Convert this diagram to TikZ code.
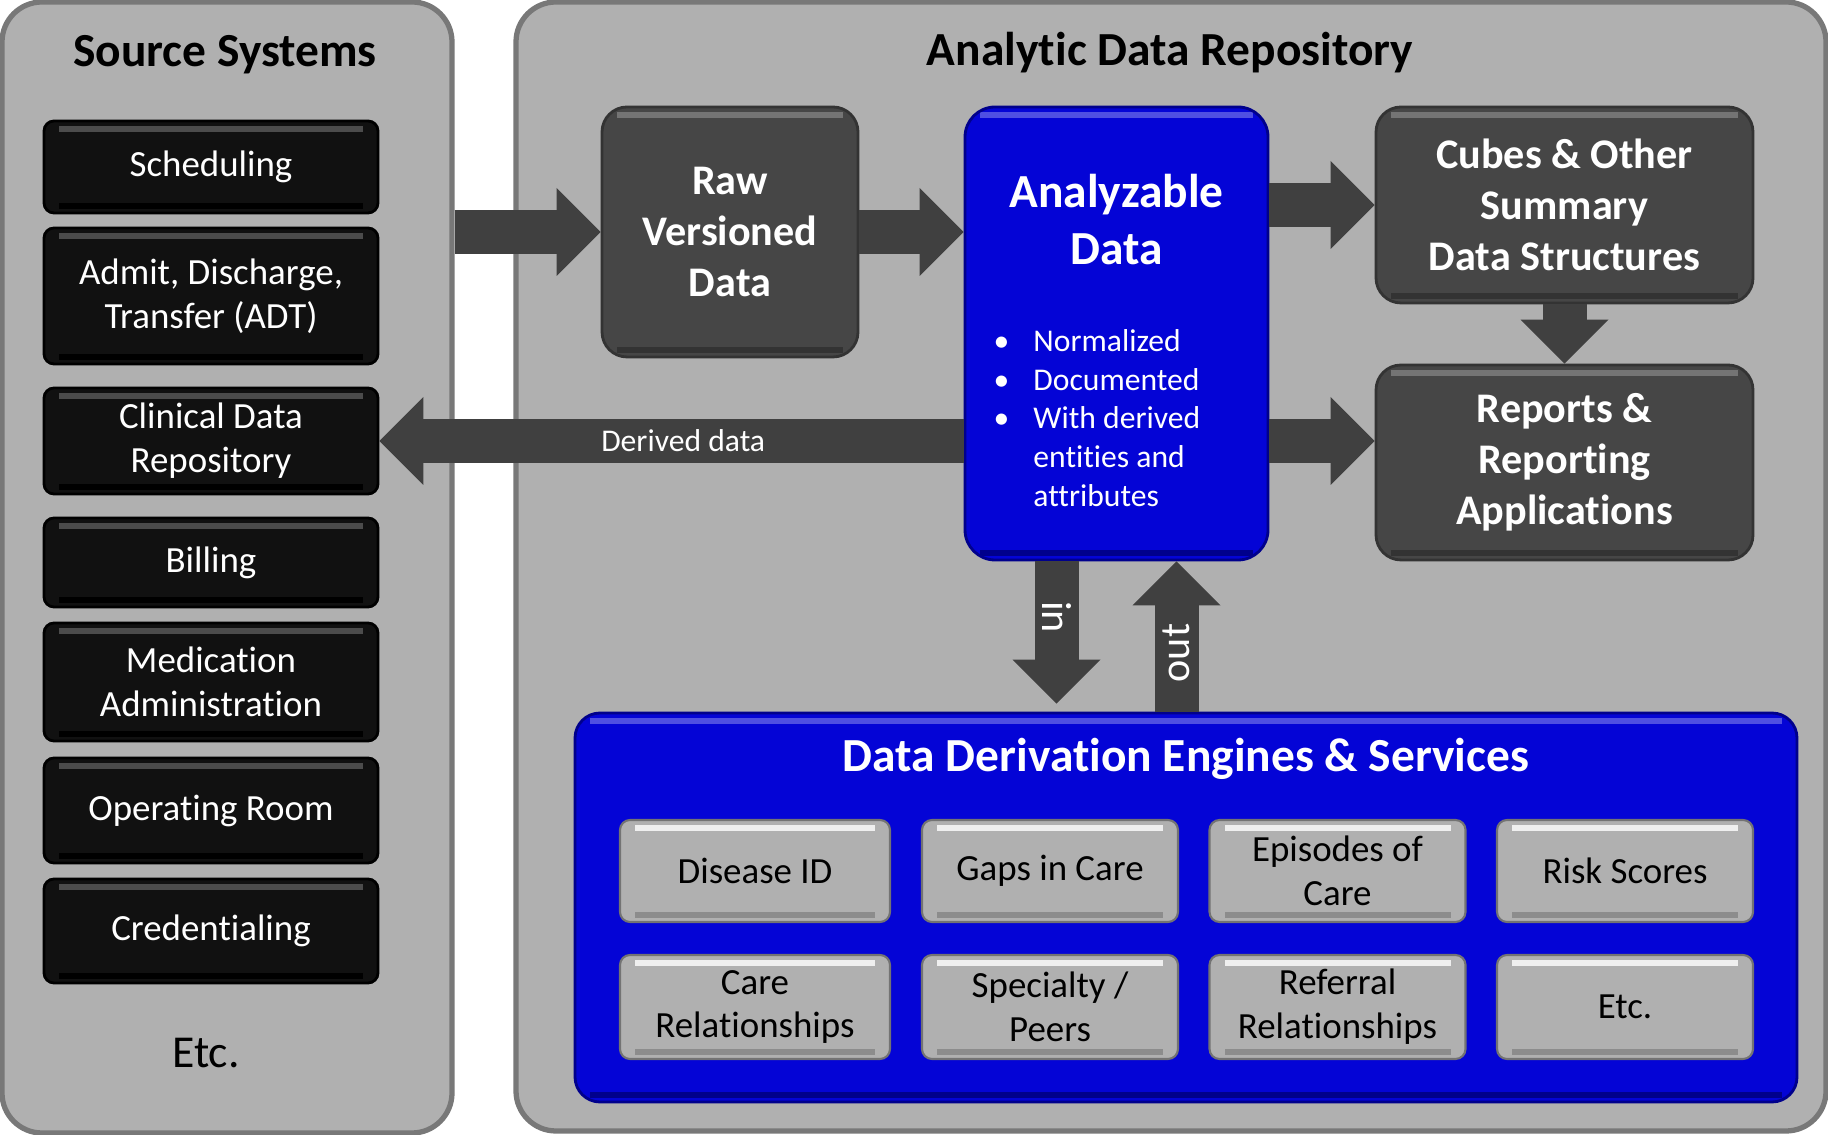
\documentclass[tikz,border=0pt]{standalone}
\usepackage{fontspec}
\setmainfont{Carlito}[Ligatures=NoCommon]
\usetikzlibrary{arrows.meta,positioning}
\definecolor{panelgrey}{RGB}{176,176,176}
\definecolor{paneledge}{RGB}{120,120,120}
\definecolor{srcblack}{RGB}{17,17,17}
\definecolor{storegrey}{RGB}{70,70,70}
\definecolor{flowgrey}{RGB}{64,64,64}
\definecolor{engineblue}{RGB}{4,4,214}
\definecolor{engineedge}{RGB}{0,0,140}
\tikzset{
  panel/.style={draw=paneledge,line width=1.5pt,fill=panelgrey,rounded corners=4mm,inner sep=0pt},
  bevel/.style 2 args={path picture={
      \fill[#1,sharp corners] ([xshift=1.5mm,yshift=-0.5mm]path picture bounding box.north west)
        rectangle ([xshift=-1.5mm,yshift=-1.1mm]path picture bounding box.north east);
      \fill[#2,sharp corners] ([xshift=1.5mm,yshift=0.4mm]path picture bounding box.south west)
        rectangle ([xshift=-1.5mm,yshift=1.0mm]path picture bounding box.south east);}},
  source/.style={draw=black,line width=0.8pt,fill=srcblack,rounded corners=1mm,
                 minimum width=33.4mm,inner sep=2pt,align=center,text=white,
                 font=\fontsize{10.5}{12.5}\selectfont,bevel={black!70!white}{black}},
  store/.style={draw=black!80,line width=0.8pt,fill=storegrey,rounded corners=2.5mm,
                inner sep=2pt,align=center,text=white,
                font=\fontsize{12}{14.5}\selectfont\bfseries,bevel={storegrey!75!white}{black!80}},
  analyzed/.style={draw=engineedge,line width=0.8pt,fill=engineblue,rounded corners=3mm,
                   inner sep=0pt,bevel={engineblue!70!white}{engineedge}},
  engine/.style={analyzed,rounded corners=2.5mm},
  service/.style={draw=black!55,line width=0.6pt,fill=panelgrey,rounded corners=1mm,
                  minimum width=25.6mm,minimum height=10.2mm,inner sep=2pt,align=center,
                  font=\fontsize{10.5}{12.5}\selectfont,bevel={white!80!panelgrey}{black!45}},
  flow/.style={draw=flowgrey,line width=4.4mm,
               -{Triangle[length=4.4mm 0 0,width=8.8mm 0 0,line width=0pt 0 0]}},
  heading/.style={font=\fontsize{13.5}{16}\selectfont\bfseries},
  flowlab/.style={text=white,inner sep=1pt},
}

\begin{document}
\begin{tikzpicture}[x=1cm,y=1cm]
  \path[use as bounding box,fill=white] (0,0) rectangle (18.28,11.35);

  % the two panels
  \node[panel,minimum width=45.0mm,minimum height=113.1mm] (srcpanel) at (2.27,5.675) {};
  \node[panel,minimum width=131.0mm,minimum height=112.9mm] (repopanel) at (11.71,5.685) {};
  \node[heading] (srctitle) at (2.25,10.80) {Source Systems};
  \node[heading] (repotitle) at (11.70,10.82) {Analytic Data Repository};

  % source systems
  \node[source,minimum height=9.2mm] (schedule) at (2.11,9.68) {Scheduling};
  \node[source,minimum height=13.6mm] (adt) at (2.11,8.39) {Admit, Discharge,\\Transfer (ADT)};
  \node[source,minimum height=10.6mm] (cdr) at (2.11,6.94) {Clinical Data\\Repository};
  \node[source,minimum height=8.9mm] (billing) at (2.11,5.725) {Billing};
  \node[source,minimum height=11.8mm] (medadmin) at (2.11,4.53) {Medication\\Administration};
  \node[source,minimum height=10.5mm] (oproom) at (2.11,3.245) {Operating Room};
  \node[source,minimum height=10.4mm] (credential) at (2.11,2.04) {Credentialing};
  \node[font=\fontsize{13}{15}\selectfont] (srcetc) at (2.06,0.82) {Etc.};

  % repository stores
  \node[store,minimum width=25.6mm,minimum height=25.0mm] (raw) at (7.30,9.03) {Raw\\Versioned\\Data};
  \node[analyzed,minimum width=30.3mm,minimum height=45.3mm] (analyzable) at (11.165,8.015) {};
  \node[text=white,align=center,font=\fontsize{13.5}{16.2}\selectfont\bfseries] (anatitle) at (11.165,9.155)
    {Analyzable\\Data};
  \node[text=white,anchor=west,inner sep=0pt,font=\fontsize{9}{11}\selectfont] (bulletlist) at (9.93,7.14)
    {\begin{tabular}{@{}l@{\hspace{2.4mm}}l@{}}
       \textbullet & Normalized\\
       \textbullet & Documented\\
       \textbullet & With derived\\
                   & entities and\\
                   & attributes
     \end{tabular}};
  \node[store,minimum width=37.7mm,minimum height=19.6mm] (cubes) at (15.645,9.30)
    {Cubes \& Other\\Summary\\Data Structures};
  \node[store,minimum width=37.7mm,minimum height=19.5mm] (reports) at (15.645,6.725)
    {Reports \&\\Reporting\\Applications};

  % derivation engines
  \node[engine,minimum width=122.2mm,minimum height=38.9mm] (engines) at (11.86,2.275) {};
  \node[heading,text=white] (enginetitle) at (11.86,3.76) {Data Derivation Engines \& Services};
  \node[service,minimum width=27.0mm] (diseaseid) at (7.55,2.64) {Disease ID};
  \node[service] (gaps) at (10.50,2.64) {Gaps in Care};
  \node[service] (episodes) at (13.375,2.64) {Episodes of\\Care};
  \node[service] (risk) at (16.25,2.64) {Risk Scores};
  \node[service,minimum width=27.0mm,minimum height=10.4mm] (carerel) at (7.55,1.28) {Care\\Relationships};
  \node[service,minimum height=10.4mm] (peers) at (10.50,1.28) {Specialty /\\Peers};
  \node[service,minimum height=10.4mm] (referral) at (13.375,1.28) {Referral\\Relationships};
  \node[service,minimum height=10.4mm] (svcetc) at (16.25,1.28) {Etc.};

  % flows
  \draw[flow] (srcpanel.east |- raw.west) -- (raw.west);
  \draw[flow] (raw.east) -- (raw.east -| analyzable.west);
  \draw[flow] (analyzable.east |- cubes.west) -- (cubes.west);
  \draw[flow] (analyzable.east |- cdr.east) -- (reports.west |- cdr.east);
  \draw[flow] (cubes.south) -- (reports.north);
  \draw[flow] (analyzable.west |- cdr.east) --
    node[flowlab,pos=0.48,font=\fontsize{9}{11}\selectfont] (derived) {Derived data} (cdr.east);

  \coordinate (intop) at ([xshift=-6mm]analyzable.south);
  \coordinate (outtop) at ([xshift=6mm]analyzable.south);
  \draw[flow,shorten >=0.8mm] (intop) --
    node[flowlab,pos=0.37,rotate=-90,font=\fontsize{12}{14}\selectfont] (inlabel) {in} (intop |- engines.north);
  \draw[flow] (outtop |- engines.north) --
    node[flowlab,pos=0.39,rotate=90,font=\fontsize{12}{14}\selectfont] (outlabel) {out} (outtop);
\end{tikzpicture}
\end{document}
